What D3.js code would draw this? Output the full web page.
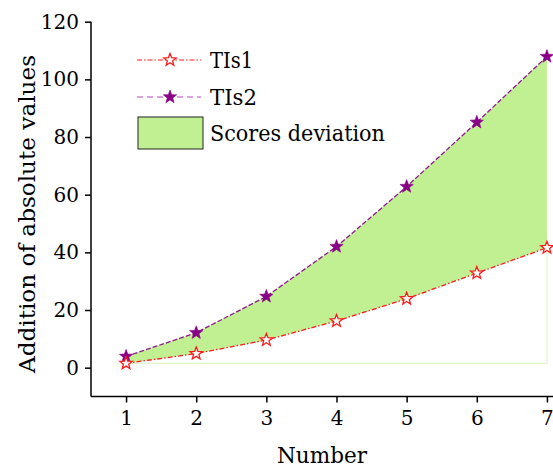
<!DOCTYPE html>
<html><head><meta charset="utf-8">
<script src="https://cdn.jsdelivr.net/npm/d3@7"></script>
<style>body{margin:0;background:#fff}svg{display:block}text{font-family:"DejaVu Serif","Liberation Serif",serif}</style>
</head><body>
<script>
const numbers = [1, 2, 3, 4, 5, 6, 7];
const tis1 = [1.5, 4.9, 9.6, 16.2, 23.9, 32.8, 41.6];
const tis2 = [3.9, 12.1, 24.7, 42.0, 62.8, 85.1, 107.9];
const yTicks = [0, 20, 40, 60, 80, 100, 120];
const seriesNames = ["TIs1", "TIs2", "Scores deviation"];

const W = 553, H = 468;
const FONT = "DejaVu Serif";
const svg = d3.select("body").append("svg").attr("width", W).attr("height", H);
const x = d3.scaleLinear().domain([0.5, 7.5]).range([91, 582]);
const y = d3.scaleLinear().domain([-10, 120]).range([396.5, 21.7]);

const data = numbers.map((n, i) => ({n, a: tis1[i], b: tis2[i]}));

// fill band
svg.append("path").datum(data)
  .attr("d", d3.area().x(d => x(d.n)).y0(d => y(d.a)).y1(d => y(d.b)))
  .attr("fill", "#c1f093");
// faint outline of fill base
svg.append("path")
  .attr("d", d3.line()([[x(numbers[0]), y(tis1[0])], [x(numbers[6]), y(tis1[0])], [x(numbers[6]), y(tis1[6])]]))
  .attr("fill", "none").attr("stroke", "#dff3cc").attr("stroke-width", 1.2);

const star = (r1, r2) => {
  const pts = [];
  for (let i = 0; i < 10; i++) {
    const r = i % 2 ? r2 : r1;
    const a = -Math.PI / 2 + i * Math.PI / 5;
    pts.push([r * Math.cos(a), r * Math.sin(a)]);
  }
  return "M" + pts.map(p => p.join(",")).join("L") + "Z";
};

// TIs2
svg.append("path").datum(data)
  .attr("d", d3.line().x(d => x(d.n)).y(d => y(d.b)))
  .attr("fill", "none").attr("stroke", "#8b1a8b").attr("stroke-width", 1.3).attr("stroke-dasharray", "5,2");
svg.selectAll(".s2").data(data).enter().append("path")
  .attr("transform", d => `translate(${x(d.n)},${y(d.b)})`)
  .attr("d", star(7, 2.9)).attr("fill", "#880088").attr("stroke", "#880088").attr("stroke-width", 0.6);

// TIs1
svg.append("path").datum(data)
  .attr("d", d3.line().x(d => x(d.n)).y(d => y(d.a)))
  .attr("fill", "none").attr("stroke", "#ff1a1a").attr("stroke-width", 1.3).attr("stroke-dasharray", "5,2,1.5,2");
svg.selectAll(".s1").data(data).enter().append("path")
  .attr("transform", d => `translate(${x(d.n)},${y(d.a)})`)
  .attr("d", star(6.5, 2.8)).attr("fill", "#fff").attr("stroke", "#ff1a1a").attr("stroke-width", 1.3);

// axes
const yAxis = svg.append("g").attr("transform", "translate(91,0)")
  .call(d3.axisLeft(y).tickValues(yTicks).tickFormat(d3.format("d")).tickSize(6).tickPadding(6));
const xAxis = svg.append("g").attr("transform", "translate(0,396.5)")
  .call(d3.axisBottom(x).tickValues(numbers).tickFormat(d3.format("d")).tickSize(6).tickPadding(8));
[yAxis, xAxis].forEach(g => {
  g.selectAll("path,line").attr("stroke", "#000").attr("stroke-width", 1.5);
  g.selectAll("text").attr("font-size", 20).attr("font-family", FONT).attr("fill", "#000");
});
xAxis.select(".domain").attr("d", `M91,0H${W}`);
yAxis.select(".domain").attr("d", "M0,396.5V21.7");

svg.append("text").attr("x", 322).attr("y", 463).attr("text-anchor", "middle")
  .attr("font-size", 22).attr("textLength", 90).attr("lengthAdjust", "spacingAndGlyphs").text("Number");
svg.append("text").attr("transform", "translate(35,214) rotate(-90)").attr("text-anchor", "middle")
  .attr("font-size", 22).attr("textLength", 318).attr("lengthAdjust", "spacingAndGlyphs").text("Addition of absolute values");

// legend
const lg = svg.append("g");
lg.append("line").attr("x1", 137).attr("x2", 201).attr("y1", 60).attr("y2", 60)
  .attr("stroke", "#ff1a1a").attr("stroke-width", 1.2).attr("stroke-dasharray", "5,2,1.5,2");
lg.append("path").attr("transform", "translate(170,60)").attr("d", star(6.5, 2.8))
  .attr("fill", "#fff").attr("stroke", "#ff1a1a").attr("stroke-width", 1.3);
lg.append("line").attr("x1", 137).attr("x2", 201).attr("y1", 97).attr("y2", 97)
  .attr("stroke", "#bb44bb").attr("stroke-width", 1.2).attr("stroke-dasharray", "6,4");
lg.append("path").attr("transform", "translate(170,97)").attr("d", star(7, 2.9))
  .attr("fill", "#880088").attr("stroke", "#880088").attr("stroke-width", 0.6);
lg.append("rect").attr("x", 138).attr("y", 117).attr("width", 65).attr("height", 32)
  .attr("fill", "#c1f093").attr("stroke", "#222").attr("stroke-width", 1);
const ly = [68, 105, 141];
const lw = [43, 47, 175];
seriesNames.forEach((t, i) => lg.append("text").attr("x", 210).attr("y", ly[i]).attr("font-size", 22)
  .attr("textLength", lw[i]).attr("lengthAdjust", "spacingAndGlyphs").text(t));
</script>
</body></html>
